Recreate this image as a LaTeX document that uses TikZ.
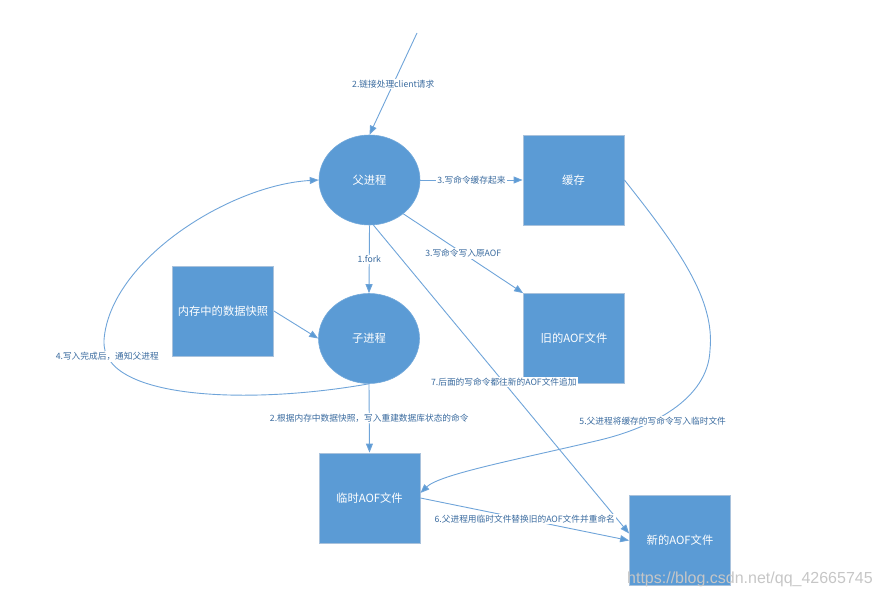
\documentclass[tikz,border=0pt]{standalone}
\usepackage{fontspec}
\setmainfont{Noto Sans CJK SC}
\newfontfamily\wmfont{Liberation Sans}
\usetikzlibrary{shapes.geometric,arrows.meta}
\definecolor{boxblue}{HTML}{5B9BD5}
\definecolor{boxedge}{HTML}{A9C2DC}
\definecolor{linecol}{HTML}{6FA4D9}
\definecolor{lblcol}{HTML}{3A6B9F}
\definecolor{wmcol}{HTML}{C6C6C6}
\begin{document}
\begin{tikzpicture}[x=1pt,y=-1pt,
  boxnode/.style={rectangle,fill=boxblue,draw=boxedge,line width=0.8pt,
    minimum width=101pt,minimum height=90pt,inner sep=0pt,
    text=white,font=\fontsize{11.3}{13}\selectfont},
  ellnode/.style={ellipse,fill=boxblue,draw=boxblue!85!white,line width=0.6pt,
    minimum width=101pt,minimum height=90pt,inner sep=0pt,
    text=white,font=\fontsize{11.3}{13}\selectfont},
  conn/.style={draw=linecol,line width=0.9pt,
    -{Triangle[length=9pt,width=7pt,fill=boxblue]}},
  lbl/.style={fill=white,inner sep=1pt,text=lblcol,
    font=\fontsize{8.7}{10}\selectfont}]
\useasboundingbox (0,0) rectangle (881,596);

% nodes
\node[ellnode] (fu) at (369.5,180) {父进程};
\node[boxnode] (hc) at (573.5,180) {缓存};
\node[boxnode] (nc) at (223,311) {内存中的数据快照};
\node[ellnode] (zi) at (369,338.5) {子进程};
\node[boxnode] (jiu) at (574,338.5) {旧的AOF文件};
\node[boxnode] (ls) at (369.5,498) {临时AOF文件};
\node[boxnode] (xin) at (680,540.5) {新的AOF文件};
\coordinate (top) at (417,33);

% straight connectors
\draw[conn] (top) -- (fu.north) node[midway,lbl] {2.链接处理client请求};
\draw[conn] (fu.east) -- (hc.west) node[midway,lbl] {3.写命令缓存起来};
\draw[conn] (fu.-45) -- (jiu.north west) node[midway,lbl] {3.写命令写入原AOF};
\draw[conn] (fu.south) -- (zi.north) node[midway,lbl] {1.fork};
\draw[conn] (nc.east) -- (zi.west);
\draw[conn] (zi.south) -- (ls.north) node[midway,lbl] {2.根据内存中数据快照，写入重建数据库状态的命令};
\draw[conn] (fu.-85) -- ([yshift=7pt]xin.west) node[pos=0.51,lbl] {7.后面的写命令都往新的AOF文件追加};
\draw[conn] (ls.east) -- (xin.west) node[midway,lbl] {6.父进程用临时文件替换旧的AOF文件并重命名};

% curved connectors
\draw[conn] (zi.south) .. controls (250,405) and (100,400) .. (104,340)
  node[pos=0.9,lbl] {4.写入完成后，通知父进程}
  .. controls (110,260) and (230,185) .. (fu.west);
\draw[conn] (hc.east) .. controls (680,250) and (715,300) .. (710,350)
  .. controls (708,400) and (650,428) .. (600,440)
  node[pos=0.65,lbl] {5.父进程将缓存的写命令写入临时文件}
  .. controls (520,459) and (440,474) .. ([yshift=5pt]ls.east);

% watermark
\node[anchor=base west,inner sep=0pt,text=wmcol,font=\wmfont\fontsize{16}{18}\selectfont]
  (wm) at (627,583) {https://blog.csdn.net/qq\_42665745};
\end{tikzpicture}
\end{document}
